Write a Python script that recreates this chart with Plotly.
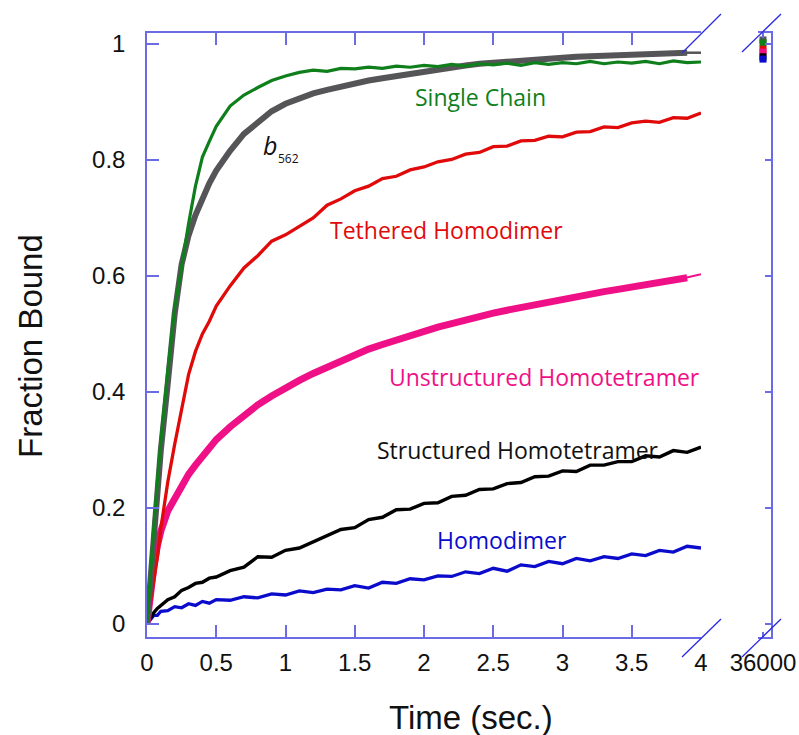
import plotly.graph_objects as go

# ---------------- data ----------------
time = [0, 0.025, 0.05, 0.075, 0.1, 0.15, 0.2, 0.25, 0.3, 0.35, 0.4, 0.45, 0.5,
        0.6, 0.7, 0.8, 0.9, 1.0, 1.1, 1.2, 1.3, 1.4, 1.5, 1.6, 1.7, 1.8, 1.9, 2.0,
        2.1, 2.2, 2.3, 2.4, 2.5, 2.6, 2.7, 2.8, 2.9, 3.0, 3.1, 3.2, 3.3, 3.4, 3.5,
        3.6, 3.7, 3.8, 3.9, 4.0]

single_chain = [0, 0.09, 0.17, 0.245, 0.315, 0.435, 0.545, 0.615, 0.69, 0.755, 0.805, 0.832, 0.858,
                0.893, 0.912, 0.925, 0.937, 0.945, 0.951, 0.955, 0.953, 0.958, 0.957, 0.960, 0.958, 0.962, 0.960, 0.963,
                0.961, 0.965, 0.962, 0.966, 0.964, 0.967, 0.963, 0.968, 0.965, 0.968, 0.966, 0.970, 0.966, 0.969, 0.967,
                0.970, 0.966, 0.971, 0.968, 0.969]

b562 = [0, 0.08, 0.16, 0.235, 0.30, 0.415, 0.535, 0.62, 0.67, 0.705, 0.735, 0.76, 0.782,
        0.816, 0.845, 0.866, 0.884, 0.897, 0.907, 0.915, 0.921, 0.927, 0.932, 0.937, 0.941, 0.945, 0.949, 0.953,
        0.956, 0.960, 0.963, 0.966, 0.968, 0.970, 0.972, 0.974, 0.976, 0.977, 0.978, 0.979, 0.980, 0.981, 0.982,
        0.983, 0.983, 0.984, 0.985, 0.985]

tethered_homodimer = [0, 0.04, 0.075, 0.115, 0.165, 0.245, 0.31, 0.37, 0.43, 0.47, 0.50, 0.522, 0.548,
                      0.583, 0.614, 0.635, 0.660, 0.671, 0.686, 0.700, 0.722, 0.733, 0.747, 0.755, 0.768, 0.772, 0.783, 0.788,
                      0.797, 0.801, 0.810, 0.813, 0.823, 0.824, 0.833, 0.834, 0.841, 0.840, 0.848, 0.849, 0.857, 0.856, 0.864,
                      0.867, 0.865, 0.873, 0.872, 0.881]

unstructured_homotetramer = [0, 0.06, 0.10, 0.135, 0.16, 0.195, 0.218, 0.24, 0.258, 0.274, 0.29, 0.305, 0.318,
                             0.34, 0.36, 0.378, 0.393, 0.408, 0.42, 0.432, 0.443, 0.455, 0.465, 0.474, 0.482, 0.49, 0.498, 0.505,
                             0.512, 0.518, 0.525, 0.531, 0.536, 0.541, 0.546, 0.551, 0.555, 0.560, 0.565, 0.569, 0.573, 0.577, 0.581,
                             0.585, 0.589, 0.592, 0.597, 0.602]

structured_homotetramer = [0, 0.01, 0.02, 0.027, 0.032, 0.042, 0.047, 0.058, 0.063, 0.070, 0.072, 0.079, 0.081,
                           0.092, 0.098, 0.116, 0.115, 0.127, 0.131, 0.142, 0.153, 0.163, 0.166, 0.180, 0.184, 0.197, 0.198, 0.208,
                           0.209, 0.220, 0.222, 0.232, 0.233, 0.242, 0.244, 0.254, 0.255, 0.264, 0.263, 0.274, 0.274, 0.280, 0.280,
                           0.290, 0.288, 0.299, 0.296, 0.305]

homodimer = [0, 0.008, 0.015, 0.015, 0.022, 0.023, 0.030, 0.028, 0.035, 0.032, 0.039, 0.036, 0.042,
             0.041, 0.047, 0.045, 0.052, 0.050, 0.057, 0.054, 0.060, 0.059, 0.066, 0.062, 0.072, 0.070, 0.078, 0.076,
             0.083, 0.082, 0.090, 0.087, 0.096, 0.091, 0.102, 0.099, 0.108, 0.104, 0.113, 0.109, 0.116, 0.113, 0.121,
             0.118, 0.127, 0.124, 0.134, 0.131]

# thin fit lines continuing the two thick (noisy) traces to 4 s
fit_time = [3.85, 4.0]
b562_fit = [0.985, 0.985]
unstructured_fit = [0.595, 0.603]

# end points at 36000 s (right panel)
long_time = [36000]
long_b562 = [1.007]
long_single = [1.002]
long_tethered = [0.991]
long_unstructured = [0.986]
long_structured = [0.978]
long_homodimer = [0.974]

x_ticks = [0, 0.5, 1, 1.5, 2, 2.5, 3, 3.5, 4]
x_ticktext = ["0", "0.5", "1", "1.5", "2", "2.5", "3", "3.5", "4"]
y_ticks = [0, 0.2, 0.4, 0.6, 0.8, 1.0]
y_ticktext = ["0", "0.2", "0.4", "0.6", "0.8", "1"]

# ---------------- styling ----------------
C_GREEN = "#0f7f1c"
C_GRAY = "#555558"
C_RED = "#e00a0a"
C_PINK = "#ef0f86"
C_BLACK = "#000000"
C_BLUE = "#0b0bcc"
AXIS = "#6b6be6"
BREAK = "#2a2ae0"
LABEL_FONT = "Open Sans"

# body margin is removed by a post script, so the figure sits at (0, 0)
W, H = 799, 735
PLOT_L, PLOT_R, PLOT_T, PLOT_B = 147, 771, 33, 637   # screen pixels
L, T, R, B = PLOT_L, PLOT_T, W - PLOT_R, H - PLOT_B
PW, PH = PLOT_R - PLOT_L, PLOT_B - PLOT_T


def px_x(px):
    return (px - PLOT_L) / PW


def px_y(py):
    return (PLOT_B - py) / PH


fig = go.Figure()

# thin fit tails (under the thick traces)
fig.add_trace(go.Scatter(x=fit_time, y=unstructured_fit, mode="lines", line=dict(color=C_PINK, width=2),
                         showlegend=False, hoverinfo="skip"))
fig.add_trace(go.Scatter(x=fit_time, y=b562_fit, mode="lines", line=dict(color=C_GRAY, width=2.5),
                         showlegend=False, hoverinfo="skip"))

series = [
    (time, homodimer, C_BLUE, 3.3),
    (time, structured_homotetramer, C_BLACK, 3.4),
    (time[:-1], unstructured_homotetramer[:-1], C_PINK, 7),
    (time, tethered_homodimer, C_RED, 3.3),
    (time[:-1], b562[:-1], C_GRAY, 6),
    (time, single_chain, C_GREEN, 3.2),
]
for tx, vals, col, w in series:
    fig.add_trace(go.Scatter(x=tx, y=vals, mode="lines", line=dict(color=col, width=w),
                             showlegend=False, hoverinfo="skip"))

# right panel squares (drawn top to bottom)
for vals, col in [(long_b562, C_GRAY), (long_single, C_GREEN), (long_tethered, C_RED),
                  (long_unstructured, C_PINK), (long_structured, C_BLACK), (long_homodimer, C_BLUE)]:
    fig.add_trace(go.Scatter(x=long_time, y=vals, xaxis="x2", yaxis="y2", mode="markers",
                             marker=dict(symbol="square", size=7, color=col, line=dict(width=0)),
                             showlegend=False, hoverinfo="skip", cliponaxis=False))

tick_font = dict(family="Liberation Sans, Arial", size=24, color="#111111")

fig.update_layout(
    width=W, height=H,
    margin=dict(l=L, r=R, t=T, b=B, autoexpand=False),
    paper_bgcolor="white", plot_bgcolor="white",
    xaxis=dict(domain=[0, px_x(701)], range=[0, 4], tickvals=x_ticks, ticktext=x_ticktext,
               showline=True, linecolor=AXIS, linewidth=1.5, mirror="ticks",
               ticks="inside", ticklen=12, tickcolor=AXIS, tickwidth=1.5, automargin=False,
               showgrid=False, zeroline=False, tickfont=tick_font, ticklabelstandoff=3),
    yaxis=dict(range=[-0.0224, 1.019], tickvals=y_ticks, ticktext=y_ticktext,
               showline=True, linecolor=AXIS, linewidth=1.5, automargin=False,
               ticks="inside", ticklen=12, tickcolor=AXIS, tickwidth=1.5,
               showgrid=False, zeroline=False, tickfont=tick_font, ticklabelstandoff=15),
    xaxis2=dict(domain=[px_x(758), 1.0], range=[35500, 36800], tickvals=[36000], ticktext=["36000"],
                anchor="y2", showline=True, linecolor=AXIS, linewidth=1.5, mirror="ticks",
                ticks="inside", ticklen=5, tickcolor=AXIS, tickwidth=1.5, automargin=False,
                showgrid=False, zeroline=False, tickfont=tick_font, ticklabelstandoff=3),
    yaxis2=dict(range=[-0.0224, 1.019], anchor="x2", side="right", tickvals=y_ticks,
                showticklabels=False, showline=True, linecolor=AXIS, linewidth=1.5,
                ticks="inside", ticklen=6, tickcolor=AXIS, tickwidth=1.5, automargin=False,
                showgrid=False, zeroline=False),
)

# axis break marks
for (x0, y0, x1, y1) in [(682, 53, 721, 14), (742, 52, 781, 14),
                         (682, 657, 721, 619), (742, 657, 781, 619)]:
    fig.add_shape(type="line", xref="paper", yref="paper",
                  x0=px_x(x0), y0=px_y(y0), x1=px_x(x1), y1=px_y(y1),
                  line=dict(color=BREAK, width=1.3))

# axis titles
fig.add_annotation(text="Time (sec.)", xref="paper", yref="paper", x=px_x(471), y=px_y(717),
                   xanchor="center", yanchor="middle", showarrow=False,
                   font=dict(family="Liberation Sans, Arial", size=33, color="#111111"))
fig.add_annotation(text="Fraction Bound", xref="paper", yref="paper", x=px_x(31), y=px_y(346),
                   xanchor="center", yanchor="middle", textangle=-90, showarrow=False,
                   font=dict(family="Liberation Sans, Arial", size=33, color="#111111"))

# curve labels
labels = [
    ("Single Chain", 2.41, 0.909, C_GREEN),
    ("Tethered Homodimer", 2.16, 0.679, C_RED),
    ("Unstructured Homotetramer", 2.87, 0.426, C_PINK),
    ("Structured Homotetramer", 2.68, 0.300, "#111111"),
    ("Homodimer", 2.56, 0.145, C_BLUE),
]
for txt, x, y, col in labels:
    fig.add_annotation(text=txt, x=x, y=y, xref="x", yref="y", showarrow=False,
                       xanchor="center", yanchor="middle",
                       font=dict(family=LABEL_FONT, size=23, color=col))

fig.add_annotation(text="<i>b</i>", x=0.888, y=0.826, xref="x", yref="y", showarrow=False,
                   xanchor="center", yanchor="middle",
                   font=dict(family=LABEL_FONT, size=25, color="#111111"))
fig.add_annotation(text="562", x=1.025, y=0.803, xref="x", yref="y", showarrow=False,
                   xanchor="center", yanchor="middle",
                   font=dict(family=LABEL_FONT, size=12, color="#111111"))

fig.write_html("out.html", config={"displayModeBar": False},
               post_script="document.body.style.margin='0px';document.body.style.overflow='hidden';")
